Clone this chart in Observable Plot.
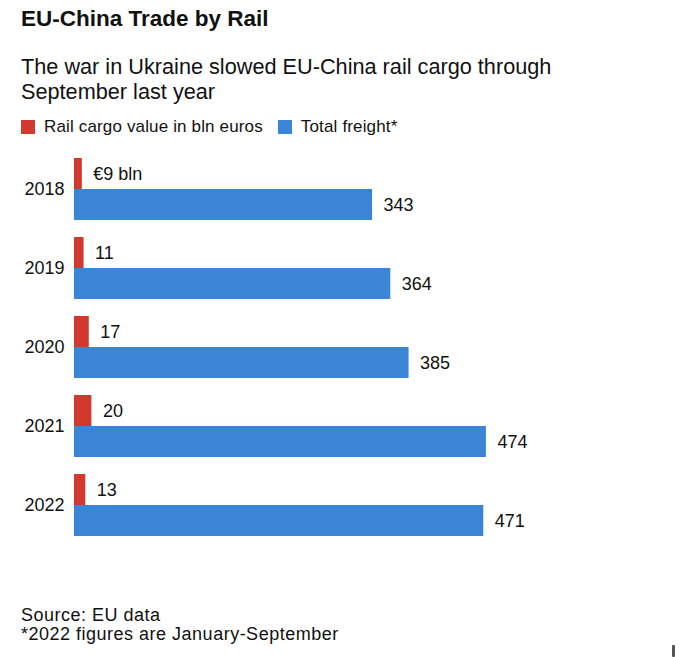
<!DOCTYPE html>
<html>
<head>
<meta charset="utf-8">
<script src="https://cdn.jsdelivr.net/npm/d3@7"></script>
<script src="https://cdn.jsdelivr.net/npm/@observablehq/plot@0.6"></script>
<style>
  html, body { margin: 0; padding: 0; background: #fff; }
  body { width: 680px; height: 657px; position: relative; overflow: hidden;
         font-family: "Liberation Sans", Arial, Helvetica, sans-serif; color: #111; }
  .abs { position: absolute; left: 21px; white-space: nowrap; }
  #title { top: 7px; font-size: 22.5px; line-height: 24px; font-weight: bold; letter-spacing: 0px; }
  #subtitle { top: 54px; font-size: 21.7px; line-height: 25px; }
  #legend { top: 117px; font-size: 17px; line-height: 20px; letter-spacing: 0.15px; display: flex; align-items: center; }
  #legend .item { display: flex; align-items: center; margin-right: 15px; }
  #legend .sw { width: 14px; height: 14px; margin-right: 9px; }
  #chart { position: absolute; left: 0; top: 148px; }
  #footer { top: 606px; font-size: 18px; line-height: 19px; letter-spacing: 0.5px; }
  #mark { position: absolute; left: 672px; top: 645px; width: 3px; height: 12px; background: #555; border-radius: 1px; }
</style>
</head>
<body>
<div id="title" class="abs">EU-China Trade by Rail</div>
<div id="subtitle" class="abs">The war in Ukraine slowed EU-China rail cargo through<br>September last year</div>
<div id="legend" class="abs"></div>
<div id="chart"></div>
<div id="footer" class="abs">Source: EU data<br>*2022 figures are January-September</div>
<div id="mark"></div>
<script>
const years = ["2018", "2019", "2020", "2021", "2022"];
const railValues = [9, 11, 17, 20, 13];
const freightValues = [343, 364, 385, 474, 471];
const railLabels = ["€9 bln", "11", "17", "20", "13"];
const freightLabels = ["343", "364", "385", "474", "471"];
const seriesKeys = ["rail", "total"];
const seriesNames = ["Rail cargo value in bln euros", "Total freight*"];
const seriesColors = ["#d0392d", "#3a85d6"];

// legend
const legend = document.getElementById("legend");
seriesKeys.forEach((k, i) => {
  const it = document.createElement("div");
  it.className = "item";
  it.innerHTML = `<span class="sw" style="background:${seriesColors[i]}"></span><span>${seriesNames[i]}</span>`;
  legend.appendChild(it);
});

const data = years.flatMap((yr, i) => [
  {year: yr, series: "rail", value: railValues[i], label: railLabels[i]},
  {year: yr, series: "total", value: freightValues[i], label: freightLabels[i]}
]);

const chart = Plot.plot({
  width: 680,
  height: 400,
  marginTop: 10,
  marginBottom: 11,
  marginLeft: 74,
  marginRight: 171.5,
  style: {fontFamily: "Liberation Sans, Arial, sans-serif", fontSize: "16px", color: "#111", background: "transparent"},
  x: {domain: [0, 500], axis: null},
  y: {domain: seriesKeys, axis: null, padding: 0},
  fy: {domain: years, paddingInner: 0.215, paddingOuter: 0},
  color: {domain: seriesKeys, range: seriesColors},
  marks: [
    Plot.axisFy({anchor: "left", tickSize: 0, tickPadding: 10, label: null, fontSize: 18}),
    Plot.barX(data, {x: "value", y: "series", fy: "year", fill: "series"}),
    Plot.text(data, {x: "value", y: "series", fy: "year", text: "label", textAnchor: "start", dx: 11, fontSize: 18, fill: "#111"})
  ]
});
document.getElementById("chart").appendChild(chart);
</script>
</body>
</html>
